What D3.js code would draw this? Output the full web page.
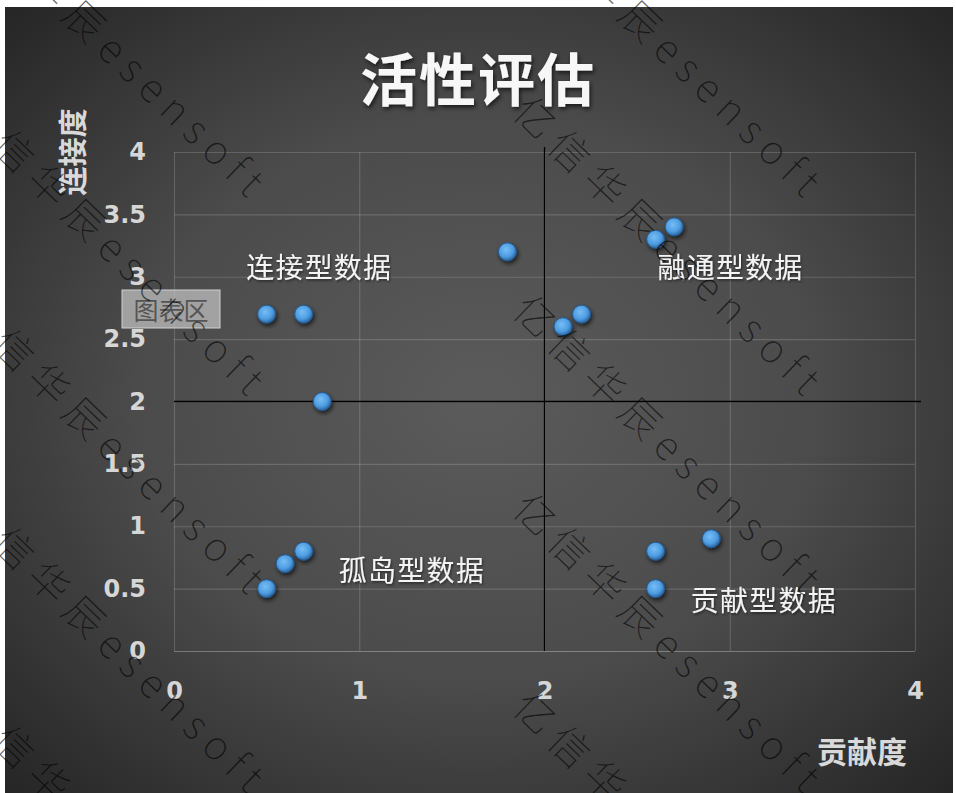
<!DOCTYPE html>
<html>
<head>
<meta charset="utf-8">
<script src="https://cdn.jsdelivr.net/npm/d3@7"></script>
<style>
    body { margin: 0; background: #ffffff; }
    svg { display: block; }
</style>
</head>
<body>
<div class="activity-chart"></div>
<script>
const width = 956
const height = 793

// data
const contribution = [0.5, 0.7, 0.8, 1.8, 2.1, 2.2, 2.6, 2.7, 0.5, 0.6, 0.7, 2.6, 2.9, 2.6]
const connection = [2.7, 2.7, 2.0, 3.2, 2.6, 2.7, 3.3, 3.4, 0.5, 0.7, 0.8, 0.8, 0.9, 0.5]

const xTicks = [0, 1, 2, 3, 4]
const yTicks = [0, 0.5, 1, 1.5, 2, 2.5, 3, 3.5, 4]

const quadrantNames = ["连接型数据", "融通型数据", "孤岛型数据", "贡献型数据"]
const quadrantX = [0.39, 2.61, 0.89, 2.79]
const quadrantY = [3.09, 3.09, 0.66, 0.42]

const splitX = 2
const splitY = 2

const cjk = "'Noto Sans CJK SC', 'Noto Sans', sans-serif"

const margin = { left: 174, right: 41, top: 152, bottom: 142 }

const x = d3.scaleLinear()
    .domain([0, 4])
    .range([margin.left, width - margin.right])
const y = d3.scaleLinear()
    .domain([0, 4])
    .range([height - margin.bottom, margin.top])

const points = contribution.map((d, i) => ({ x: d, y: connection[i] }))

const svg = d3.select(".activity-chart")
    .append("svg")
    .attr("width", width)
    .attr("height", height)

const defs = svg.append("defs")

const bg = defs.append("radialGradient")
    .attr("id", "bg")
    .attr("cx", "50%").attr("cy", "50%").attr("r", "72%")
bg.append("stop").attr("offset", "0%").attr("stop-color", "#5b5b5b")
bg.append("stop").attr("offset", "50%").attr("stop-color", "#4b4b4b")
bg.append("stop").attr("offset", "100%").attr("stop-color", "#242424")

const dot = defs.append("radialGradient")
    .attr("id", "dot")
    .attr("cx", "42%").attr("cy", "38%").attr("r", "62%")
dot.append("stop").attr("offset", "0%").attr("stop-color", "#76bdf6")
dot.append("stop").attr("offset", "65%").attr("stop-color", "#4d9be0")
dot.append("stop").attr("offset", "100%").attr("stop-color", "#2a64a0")

const shadow = defs.append("filter").attr("id", "shadow")
    .attr("x", "-30%").attr("y", "-30%").attr("width", "160%").attr("height", "160%")
shadow.append("feDropShadow")
    .attr("dx", 1.5).attr("dy", 2.5).attr("stdDeviation", 2)
    .attr("flood-color", "#000").attr("flood-opacity", 0.65)

const soft = defs.append("filter").attr("id", "soft")
    .attr("x", "-10%").attr("y", "-30%").attr("width", "120%").attr("height", "160%")
soft.append("feDropShadow")
    .attr("dx", 1).attr("dy", 1.5).attr("stdDeviation", 1.2)
    .attr("flood-color", "#000").attr("flood-opacity", 0.5)

// dark panel
svg.append("rect")
    .attr("x", 5).attr("y", 7)
    .attr("width", 948).attr("height", height - 7)
    .attr("fill", "url(#bg)")

// grid + tick labels
const yAxis = d3.axisLeft(y)
    .tickValues(yTicks)
    .tickFormat(d => d)
    .tickSize(-(x.range()[1] - x.range()[0]))
    .tickPadding(28)

const xAxis = d3.axisBottom(x)
    .tickValues(xTicks)
    .tickFormat(d => d)
    .tickSize(-(y.range()[0] - y.range()[1]))
    .tickPadding(31)

svg.append("g")
    .attr("class", "yAxis")
    .attr("transform", `translate(${margin.left}, 0)`)
    .call(yAxis)
    .call(g => g.select(".domain").remove())

svg.append("g")
    .attr("class", "xAxis")
    .attr("transform", `translate(0, ${y(0)})`)
    .call(xAxis)
    .call(g => g.select(".domain").remove())

svg.selectAll(".tick line")
    .attr("stroke", "#ffffff")
    .attr("stroke-opacity", 0.16)
    .attr("stroke-width", 1.2)

svg.selectAll(".yAxis .tick line")
    .filter(d => d === 0)
    .attr("stroke-opacity", 0.3)

svg.selectAll(".tick text")
    .attr("fill", "#d6d6d6")
    .attr("font-family", "'DejaVu Sans', sans-serif")
    .attr("font-weight", "bold")
    .attr("font-size", 24)

// quadrant split lines
svg.append("line")
    .attr("x1", x(splitX)).attr("x2", x(splitX))
    .attr("y1", y(0)).attr("y2", y(4) - 5)
    .attr("stroke", "#000").attr("stroke-width", 1.3)

svg.append("line")
    .attr("x1", x(0)).attr("x2", x(4) + 6)
    .attr("y1", y(splitY)).attr("y2", y(splitY))
    .attr("stroke", "#000").attr("stroke-width", 1.3)

// points
svg.selectAll("circle.pt")
    .data(points)
    .join("circle")
    .attr("class", "pt")
    .attr("cx", d => x(d.x))
    .attr("cy", d => y(d.y))
    .attr("r", 9)
    .attr("fill", "url(#dot)")
    .attr("stroke", "#245a8f")
    .attr("stroke-width", 1)
    .attr("filter", "url(#shadow)")

// quadrant names
svg.selectAll("text.quad")
    .data(quadrantNames)
    .join("text")
    .attr("class", "quad")
    .attr("x", (d, i) => x(quadrantX[i]))
    .attr("y", (d, i) => y(quadrantY[i]))
    .attr("dominant-baseline", "central")
    .attr("fill", "#f4f4f4")
    .attr("font-family", cjk)
    .attr("font-size", 28)
    .attr("letter-spacing", 1.2)
    .attr("filter", "url(#soft)")
    .text(d => d)

// title
svg.append("text")
    .text("活性评估")
    .attr("x", 478)
    .attr("y", 76)
    .attr("text-anchor", "middle")
    .attr("dominant-baseline", "central")
    .attr("fill", "#f7f7f7")
    .attr("font-family", cjk)
    .attr("font-weight", "bold")
    .attr("font-size", 57)
    .attr("letter-spacing", 2)
    .attr("filter", "url(#shadow)")

// axis titles
svg.append("text")
    .text("连接度")
    .attr("transform", `translate(${71}, ${152}) rotate(-90)`)
    .attr("text-anchor", "middle")
    .attr("dominant-baseline", "central")
    .attr("fill", "#d9d9d9")
    .attr("font-family", cjk)
    .attr("font-weight", "bold")
    .attr("font-size", 29)

svg.append("text")
    .text("贡献度")
    .attr("x", 862)
    .attr("y", 750)
    .attr("text-anchor", "middle")
    .attr("dominant-baseline", "central")
    .attr("fill", "#d9d9d9")
    .attr("font-family", cjk)
    .attr("font-weight", "bold")
    .attr("font-size", 30)

// excel hover tag
const tag = svg.append("g").attr("transform", `translate(${122}, ${290})`)
tag.append("rect")
    .attr("width", 98).attr("height", 38)
    .attr("fill", "#b4b4b4").attr("fill-opacity", 0.82)
    .attr("stroke", "#d0d0d0").attr("stroke-width", 1)
tag.append("text")
    .text("图表区")
    .attr("x", 49).attr("y", 19)
    .attr("text-anchor", "middle")
    .attr("dominant-baseline", "central")
    .attr("fill", "#555555")
    .attr("font-family", cjk)
    .attr("font-size", 25)

// watermark
const wmCols = [-46, 510]
const wmRows = d3.range(-283, 800, 198.5)
const wm = svg.append("g").attr("class", "watermark")
wmCols.forEach(cx => {
    wmRows.forEach(cy => {
        wm.append("text")
            .text("亿信华辰esensoft")
            .attr("transform", `translate(${cx}, ${cy}) rotate(44)`)
            .attr("fill", "#000")
            .attr("fill-opacity", 0.62)
            .attr("font-family", cjk)
            .attr("font-weight", 100)
            .attr("font-size", 40)
            .attr("letter-spacing", 9)
    })
})
</script>
</body>
</html>
